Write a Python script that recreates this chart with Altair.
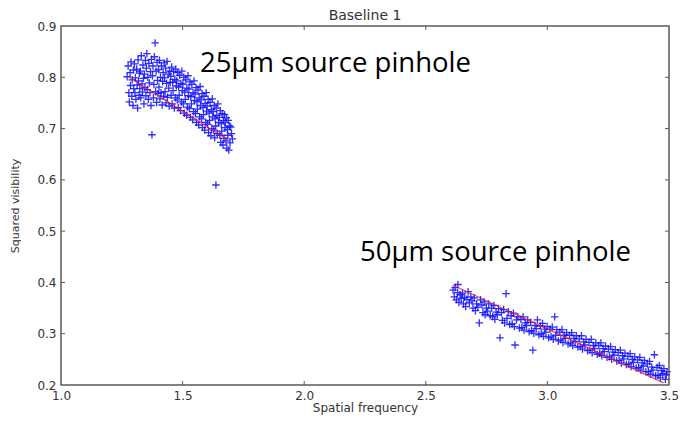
import altair as alt
import pandas as pd

# ---------------- data ----------------
# 25um source pinhole cluster: (spatial frequency, squared visibility)
cluster_25 = [
    (1.272, 0.801), (1.276, 0.822), (1.279, 0.770), (1.281, 0.752), (1.284, 0.809), (1.286, 0.784),
    (1.288, 0.830), (1.291, 0.763), (1.293, 0.795), (1.296, 0.745), (1.298, 0.814), (1.299, 0.778),
    (1.302, 0.826), (1.304, 0.770), (1.306, 0.799), (1.308, 0.757), (1.311, 0.816), (1.313, 0.785),
    (1.315, 0.740), (1.317, 0.834), (1.319, 0.793), (1.321, 0.765), (1.322, 0.808), (1.324, 0.778),
    (1.326, 0.812), (1.328, 0.760), (1.330, 0.842), (1.333, 0.787), (1.335, 0.771), (1.337, 0.824),
    (1.339, 0.798), (1.341, 0.748), (1.343, 0.806), (1.345, 0.780), (1.347, 0.833), (1.349, 0.764),
    (1.351, 0.818), (1.353, 0.846), (1.355, 0.776), (1.357, 0.800), (1.359, 0.757), (1.361, 0.827),
    (1.363, 0.789), (1.366, 0.770), (1.368, 0.811), (1.370, 0.745), (1.372, 0.835), (1.374, 0.688),
    (1.376, 0.803), (1.378, 0.822), (1.380, 0.760), (1.382, 0.786), (1.384, 0.840), (1.387, 0.867),
    (1.389, 0.772), (1.391, 0.812), (1.393, 0.751), (1.395, 0.829), (1.397, 0.794), (1.399, 0.768),
    (1.401, 0.815), (1.403, 0.781), (1.405, 0.833), (1.407, 0.758), (1.409, 0.800), (1.411, 0.770),
    (1.413, 0.822), (1.416, 0.746), (1.418, 0.792), (1.420, 0.809), (1.422, 0.763), (1.424, 0.828),
    (1.426, 0.799), (1.428, 0.772), (1.430, 0.818), (1.432, 0.750), (1.434, 0.788), (1.436, 0.831),
    (1.438, 0.761), (1.441, 0.806), (1.443, 0.779), (1.445, 0.744), (1.447, 0.812), (1.449, 0.790),
    (1.451, 0.802), (1.453, 0.765), (1.455, 0.820), (1.457, 0.748), (1.459, 0.790), (1.461, 0.774),
    (1.463, 0.811), (1.466, 0.740), (1.468, 0.796), (1.470, 0.760), (1.472, 0.816), (1.474, 0.783),
    (1.476, 0.793), (1.478, 0.756), (1.480, 0.809), (1.482, 0.741), (1.484, 0.781), (1.486, 0.765),
    (1.488, 0.804), (1.491, 0.735), (1.493, 0.788), (1.495, 0.752), (1.497, 0.812), (1.499, 0.774),
    (1.501, 0.786), (1.503, 0.748), (1.505, 0.800), (1.507, 0.730), (1.509, 0.771), (1.511, 0.757),
    (1.513, 0.795), (1.516, 0.726), (1.518, 0.779), (1.520, 0.742), (1.522, 0.803), (1.524, 0.764),
    (1.526, 0.777), (1.528, 0.739), (1.530, 0.791), (1.532, 0.722), (1.534, 0.762), (1.536, 0.748),
    (1.538, 0.786), (1.541, 0.717), (1.543, 0.770), (1.545, 0.733), (1.547, 0.793), (1.549, 0.755),
    (1.551, 0.767), (1.553, 0.729), (1.555, 0.780), (1.557, 0.712), (1.559, 0.752), (1.561, 0.738),
    (1.563, 0.775), (1.566, 0.707), (1.568, 0.760), (1.570, 0.723), (1.572, 0.782), (1.574, 0.745),
    (1.576, 0.756), (1.578, 0.719), (1.580, 0.768), (1.582, 0.702), (1.584, 0.741), (1.586, 0.727),
    (1.588, 0.763), (1.591, 0.697), (1.593, 0.749), (1.595, 0.712), (1.597, 0.770), (1.599, 0.734),
    (1.601, 0.744), (1.603, 0.708), (1.605, 0.757), (1.607, 0.692), (1.609, 0.730), (1.611, 0.716),
    (1.613, 0.751), (1.616, 0.686), (1.618, 0.737), (1.620, 0.700), (1.622, 0.758), (1.624, 0.723),
    (1.626, 0.733), (1.628, 0.697), (1.630, 0.745), (1.632, 0.682), (1.634, 0.719), (1.636, 0.705),
    (1.638, 0.740), (1.637, 0.590), (1.641, 0.726), (1.643, 0.690), (1.645, 0.748), (1.648, 0.712),
    (1.651, 0.722), (1.653, 0.687), (1.655, 0.735), (1.657, 0.673), (1.659, 0.709), (1.661, 0.695),
    (1.663, 0.729), (1.666, 0.668), (1.668, 0.716), (1.670, 0.681), (1.672, 0.727), (1.674, 0.702),
    (1.676, 0.712), (1.678, 0.676), (1.680, 0.721), (1.682, 0.662), (1.684, 0.698), (1.686, 0.687),
    (1.688, 0.716), (1.690, 0.658), (1.693, 0.705), (1.695, 0.672), (1.698, 0.703), (1.701, 0.690),
    (1.705, 0.680),
]

# 50um source pinhole cluster
cluster_50 = [
    (2.612, 0.385), (2.617, 0.372), (2.621, 0.390), (2.626, 0.366), (2.631, 0.380), (2.636, 0.361),
    (2.641, 0.376), (2.646, 0.369), (2.632, 0.396),
    (2.651, 0.379), (2.655, 0.358), (2.660, 0.371), (2.664, 0.353), (2.669, 0.367), (2.674, 0.382),
    (2.679, 0.360), (2.685, 0.372),
    (2.690, 0.364), (2.694, 0.350), (2.699, 0.370), (2.704, 0.345), (2.709, 0.358), (2.714, 0.352),
    (2.720, 0.321), (2.725, 0.366),
    (2.731, 0.356), (2.735, 0.341), (2.740, 0.362), (2.744, 0.337), (2.749, 0.350), (2.754, 0.344),
    (2.759, 0.358), (2.765, 0.335),
    (2.771, 0.350), (2.775, 0.333), (2.780, 0.355), (2.784, 0.328), (2.789, 0.342), (2.794, 0.337),
    (2.799, 0.349), (2.805, 0.292),
    (2.811, 0.341), (2.815, 0.326), (2.820, 0.347), (2.824, 0.321), (2.830, 0.378), (2.834, 0.330),
    (2.839, 0.343), (2.845, 0.318),
    (2.851, 0.335), (2.855, 0.319), (2.860, 0.340), (2.864, 0.314), (2.867, 0.278), (2.873, 0.327),
    (2.879, 0.333), (2.885, 0.311),
    (2.891, 0.328), (2.895, 0.312), (2.900, 0.333), (2.904, 0.307), (2.909, 0.321), (2.914, 0.316),
    (2.919, 0.327), (2.925, 0.304),
    (2.931, 0.322), (2.935, 0.306), (2.940, 0.268), (2.944, 0.301), (2.949, 0.316), (2.954, 0.310),
    (2.959, 0.327), (2.965, 0.298),
    (2.971, 0.315), (2.975, 0.300), (2.980, 0.320), (2.984, 0.295), (2.989, 0.309), (2.994, 0.303),
    (2.999, 0.314), (3.005, 0.292),
    (3.011, 0.309), (3.015, 0.294), (3.020, 0.313), (3.024, 0.289), (3.030, 0.333), (3.034, 0.297),
    (3.039, 0.308), (3.045, 0.286),
    (3.051, 0.303), (3.055, 0.288), (3.060, 0.308), (3.064, 0.283), (3.069, 0.297), (3.074, 0.291),
    (3.079, 0.302), (3.085, 0.280),
    (3.091, 0.297), (3.095, 0.282), (3.100, 0.302), (3.104, 0.277), (3.109, 0.291), (3.114, 0.285),
    (3.119, 0.296), (3.125, 0.274),
    (3.131, 0.290), (3.135, 0.275), (3.140, 0.296), (3.144, 0.270), (3.149, 0.284), (3.154, 0.278),
    (3.159, 0.289), (3.165, 0.267),
    (3.171, 0.283), (3.175, 0.268), (3.180, 0.289), (3.184, 0.263), (3.189, 0.277), (3.194, 0.271),
    (3.199, 0.282), (3.205, 0.260),
    (3.211, 0.277), (3.215, 0.262), (3.220, 0.282), (3.224, 0.257), (3.229, 0.271), (3.234, 0.265),
    (3.239, 0.276), (3.245, 0.254),
    (3.251, 0.270), (3.255, 0.255), (3.260, 0.275), (3.264, 0.250), (3.269, 0.264), (3.274, 0.258),
    (3.279, 0.269), (3.285, 0.247),
    (3.291, 0.263), (3.295, 0.248), (3.300, 0.268), (3.304, 0.243), (3.309, 0.257), (3.314, 0.251),
    (3.319, 0.262), (3.325, 0.240),
    (3.331, 0.256), (3.335, 0.241), (3.340, 0.261), (3.344, 0.236), (3.349, 0.250), (3.354, 0.244),
    (3.359, 0.255), (3.365, 0.233),
    (3.371, 0.249), (3.375, 0.234), (3.380, 0.254), (3.384, 0.229), (3.389, 0.243), (3.394, 0.237),
    (3.399, 0.248), (3.405, 0.226),
    (3.411, 0.241), (3.415, 0.226), (3.420, 0.246), (3.424, 0.221), (3.429, 0.235), (3.434, 0.229),
    (3.440, 0.259), (3.445, 0.218),
    (3.451, 0.234), (3.455, 0.219), (3.460, 0.238), (3.464, 0.214), (3.469, 0.228), (3.474, 0.222),
    (3.479, 0.232), (3.485, 0.211), (3.489, 0.220), (3.492, 0.226),
]

# fitted lines (end points)
fit_25 = [(1.28, 0.800), (1.687, 0.678)]
fit_50 = [(2.61, 0.395), (3.478, 0.204)]

x_ticks = [1.0, 1.5, 2.0, 2.5, 3.0, 3.5]
y_ticks = [0.2, 0.3, 0.4, 0.5, 0.6, 0.7, 0.8, 0.9]

title_text = ["Baseline 1"]
annotations = ["25\u00b5m source pinhole", "50\u00b5m source pinhole"]

# ---------------- chart ----------------
W, H = 608, 359
FONT = "DejaVu Sans"
AX = "#333333"
EDGE = "#5a5a5a"

pts = pd.DataFrame(cluster_25 + cluster_50, columns=["x", "y"])
fits = pd.DataFrame(fit_25 + fit_50, columns=["x", "y"])
fits["g"] = ["a", "a", "b", "b"]
xt = pd.DataFrame({"v": x_ticks[1:-1]})
yt = pd.DataFrame({"v": y_ticks[1:-1]})

xs = alt.Scale(domain=[1.0, 3.5], nice=False, zero=False)
ys = alt.Scale(domain=[0.2, 0.9], nice=False, zero=False)

xax = alt.Axis(values=x_ticks, format=".1f", title="Spatial frequency",
               tickSize=0, domain=False, grid=False, labelPadding=5,
               labelFlush=False, labelOverlap=False,
               labelFontSize=12, labelColor=AX, labelFont=FONT,
               titleFont=FONT, titleFontSize=12, titleColor=AX,
               titleFontWeight="normal", titlePadding=1)
yax = alt.Axis(values=y_ticks, format=".1f", title="Squared visibility",
               tickSize=0, domain=False, grid=False, labelPadding=5,
               labelFlush=False, labelOverlap=False,
               labelFontSize=12, labelColor=AX, labelFont=FONT,
               titleFont=FONT, titleFontSize=11, titleColor=AX,
               titleFontWeight="normal", titlePadding=16)

plus = "M-1,0L1,0M0,-1L0,1"

scatter = alt.Chart(pts).mark_point(
    shape=plus, filled=False, size=56, strokeWidth=1.3,
    color="#0a0aff", opacity=0.85
).encode(
    x=alt.X("x:Q", scale=xs, axis=xax),
    y=alt.Y("y:Q", scale=ys, axis=yax),
)

lines = alt.Chart(fits).mark_line(color="#ee1122", strokeWidth=1.3, opacity=0.75).encode(
    x=alt.X("x:Q", scale=xs), y=alt.Y("y:Q", scale=ys), detail="g:N"
)

xb = alt.Chart(xt).mark_rule(color=EDGE, strokeWidth=1).encode(
    x=alt.X("v:Q", scale=xs), y=alt.value(H), y2=alt.value(H - 4))
xtop = alt.Chart(xt).mark_rule(color=EDGE, strokeWidth=1).encode(
    x=alt.X("v:Q", scale=xs), y=alt.value(0), y2=alt.value(4))
yl = alt.Chart(yt).mark_rule(color=EDGE, strokeWidth=1).encode(
    y=alt.Y("v:Q", scale=ys), x=alt.value(0), x2=alt.value(4))
yr = alt.Chart(yt).mark_rule(color=EDGE, strokeWidth=1).encode(
    y=alt.Y("v:Q", scale=ys), x=alt.value(W), x2=alt.value(W - 4))

frame = alt.Chart(pd.DataFrame({"k": [0]})).mark_rect(
    fill="transparent", stroke=EDGE, strokeWidth=1.5
).encode(x=alt.value(0), x2=alt.value(W), y=alt.value(0), y2=alt.value(H))

ttl = alt.Chart(pd.DataFrame({"t": title_text})).mark_text(
    font=FONT, fontSize=14, color=AX, baseline="alphabetic"
).encode(text="t:N", x=alt.value(W / 2), y=alt.value(-6))

ann1 = alt.Chart(pd.DataFrame({"t": [annotations[0]]})).mark_text(
    align="left", baseline="alphabetic", font="Open Sans", fontSize=27.5, color="black"
).encode(text="t:N", x=alt.value(139), y=alt.value(46))
ann2 = alt.Chart(pd.DataFrame({"t": [annotations[1]]})).mark_text(
    align="left", baseline="alphabetic", font="Open Sans", fontSize=27.5, color="black"
).encode(text="t:N", x=alt.value(299), y=alt.value(235))

chart = alt.layer(scatter, lines, xb, xtop, yl, yr, frame, ttl, ann1, ann2).properties(
    width=W, height=H,
    autosize=alt.AutoSizeParams(type="none"),
    padding={"left": 61, "top": 26, "right": 14, "bottom": 37},
).configure_view(stroke=None)

chart.save("out.html", embed_options={"renderer": "svg", "actions": False})
